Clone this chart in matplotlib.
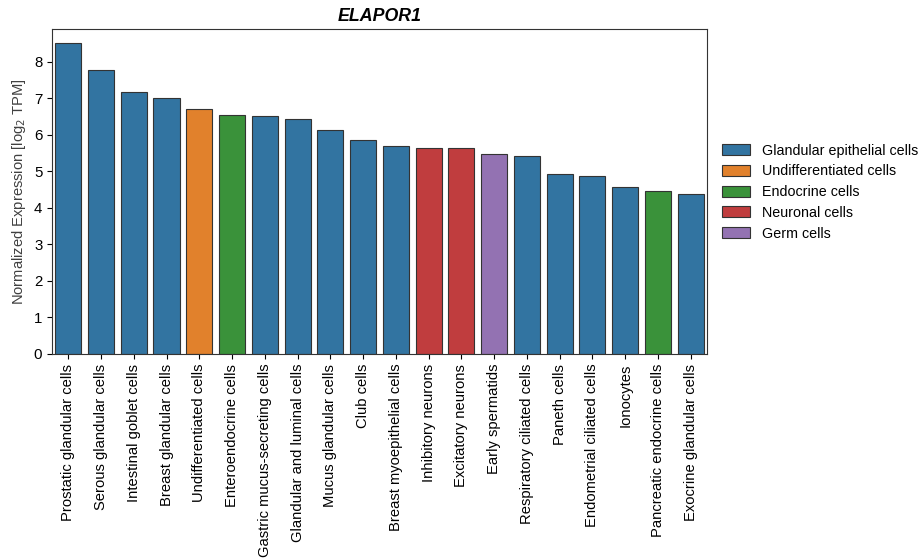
import numpy as np
import matplotlib.pyplot as plt
from matplotlib.patches import Patch

plt.rcParams['font.family'] = ['Liberation Sans', 'DejaVu Sans']

gene = "ELAPOR1"

cell_types = [
    "Prostatic glandular cells", "Serous glandular cells", "Intestinal goblet cells",
    "Breast glandular cells", "Undifferentiated cells", "Enteroendocrine cells",
    "Gastric mucus-secreting cells", "Glandular and luminal cells", "Mucus glandular cells",
    "Club cells", "Breast myoepithelial cells", "Inhibitory neurons",
    "Excitatory neurons", "Early spermatids", "Respiratory ciliated cells",
    "Paneth cells", "Endometrial ciliated cells", "Ionocytes",
    "Pancreatic endocrine cells", "Exocrine glandular cells",
]

expression = [8.52, 7.79, 7.19, 7.02, 6.71, 6.54, 6.53, 6.43, 6.14, 5.85,
              5.69, 5.65, 5.64, 5.47, 5.42, 4.92, 4.88, 4.57, 4.47, 4.37]

groups = [
    "Glandular epithelial cells", "Glandular epithelial cells", "Glandular epithelial cells",
    "Glandular epithelial cells", "Undifferentiated cells", "Endocrine cells",
    "Glandular epithelial cells", "Glandular epithelial cells", "Glandular epithelial cells",
    "Glandular epithelial cells", "Glandular epithelial cells", "Neuronal cells",
    "Neuronal cells", "Germ cells", "Glandular epithelial cells",
    "Glandular epithelial cells", "Glandular epithelial cells", "Glandular epithelial cells",
    "Endocrine cells", "Glandular epithelial cells",
]

group_order = ["Glandular epithelial cells", "Undifferentiated cells", "Endocrine cells",
               "Neuronal cells", "Germ cells"]

# seaborn-style desaturated tab10
palette = {
    "Glandular epithelial cells": "#3274a1",
    "Undifferentiated cells": "#e1812c",
    "Endocrine cells": "#3a923a",
    "Neuronal cells": "#c03d3e",
    "Germ cells": "#9372b2",
}

fig = plt.figure(figsize=(9.23, 5.6), dpi=100)
ax = fig.add_axes([0.0563, 0.368, 0.7097, 0.580])

x = np.arange(len(cell_types))
ax.bar(x, expression, width=0.8, color=[palette[g] for g in groups],
       edgecolor="0.2", linewidth=0.8)

ax.set_xlim(-0.5, len(cell_types) - 0.5)
ax.set_ylim(0, 8.9)
ax.set_xticks(x)
ax.set_xticklabels(cell_types, rotation=90, fontsize=10.6)
ax.set_yticks(range(0, 9))
ax.tick_params(axis="y", labelsize=10.8)
ax.set_ylabel("Normalized Expression [log$_2$ TPM]", fontsize=10.6, color="0.25")
ax.set_title(gene, fontsize=12.8, fontweight="bold", fontstyle="italic")

for s in ax.spines.values():
    s.set_color("0.2")

handles = [Patch(facecolor=palette[g], edgecolor="0.2", linewidth=0.8, label=g)
           for g in group_order]
fig.legend(handles=handles, loc="center left", bbox_to_anchor=(0.768, 0.657),
           frameon=False, fontsize=10.3, handlelength=2.0, handleheight=0.8,
           labelspacing=0.47)

fig.savefig("out.png", dpi=100)
